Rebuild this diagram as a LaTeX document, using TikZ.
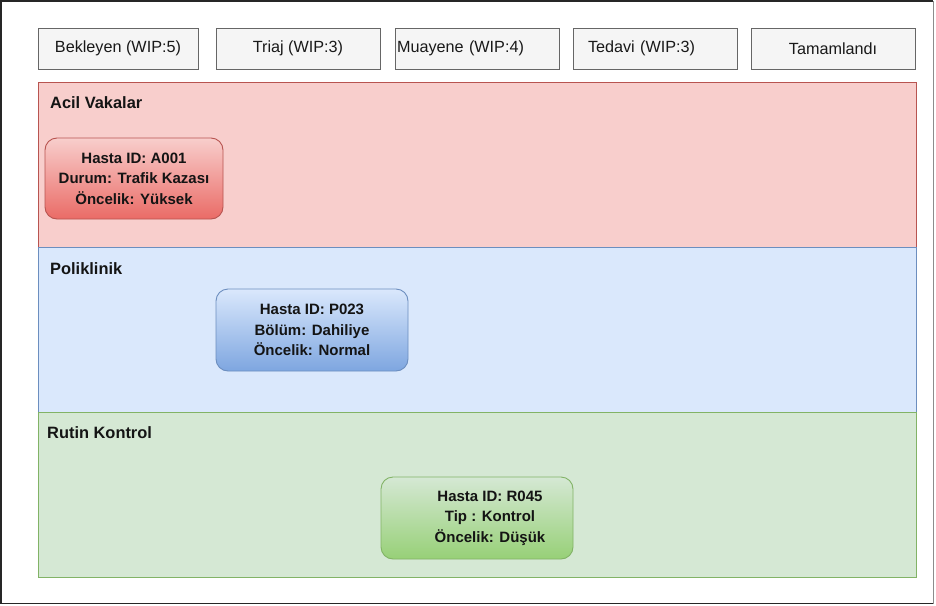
\documentclass[tikz,border=0pt]{standalone}
\usepackage{fontspec}
\setmainfont{Liberation Sans}
\begin{document}
\begin{tikzpicture}[x=1pt,y=-1pt,
  colhead/.style={draw=black!60,fill=black!4,line width=0.8pt,minimum height=41pt,
    inner sep=0pt,font=\fontsize{16.2}{18}\selectfont,text=black!90},
  lefthead/.style={colhead,align=left,text width=164pt-2*#1,inner xsep=#1},
  lane/.style={line width=0.9pt},
  lanetitle/.style={anchor=base west,inner sep=0pt,font=\fontsize{16.4}{18}\selectfont\bfseries,text=black!92},
  card/.style={rounded corners=12pt,line width=0.9pt,inner sep=0pt,
    font=\fontsize{15}{20.5}\selectfont\bfseries,text=black!92,align=center}
]
\definecolor{redfill}{HTML}{F8CECC}\definecolor{redline}{HTML}{B85450}\definecolor{reddark}{HTML}{EA6B66}
\definecolor{bluefill}{HTML}{DAE8FC}\definecolor{blueline}{HTML}{6C8EBF}\definecolor{bluedark}{HTML}{7EA6E0}
\definecolor{greenfill}{HTML}{D5E8D4}\definecolor{greenline}{HTML}{82B366}\definecolor{greendark}{HTML}{97D077}
\useasboundingbox (0,0) rectangle (936,605);
\fill[white] (0,0) rectangle (936,605);
% outer frame
\draw[black!85,line width=1.6pt] (933,1) -- (1,1) -- (1,603.5) -- (933,603.5);
\draw[black!45,line width=1pt] (933,1) -- (933,603.5);

% column headers
\node[colhead,minimum width=160pt] (h1) at (118,48.5) {Bekleyen (WIP:5)};
\node[colhead,minimum width=164pt] (h2) at (298,48.5) {Triaj (WIP:3)};
\node[lefthead=2pt] (h3) at (477,48.5) {Muayene (WIP:4)};
\node[lefthead=15pt] (h4) at (655,48.5) {Tedavi (WIP:3)};
\node[colhead,minimum width=164pt] (h5) at (833,48.5) {Tamamlandı};

% swimlanes
\draw[lane,fill=redfill,draw=redline] (38,82) rectangle (916,247);
\draw[lane,fill=bluefill,draw=blueline] (38,247) rectangle (916,412);
\draw[lane,fill=greenfill,draw=greenline] (38,412) rectangle (916,577);
\node[lanetitle] (t1) at (50,108) {Acil Vakalar};
\node[lanetitle] (t2) at (50,274) {Poliklinik};
\node[lanetitle] (t3) at (47,438) {Rutin Kontrol};

% patient cards
\node[card,draw=redline,top color=redfill,bottom color=reddark,
  minimum width=178pt,minimum height=81pt] (a001) at (134,178.5)
  {Hasta ID: A001\\Durum: Trafik Kazası\\Öncelik: Yüksek};
\node[card,draw=blueline,top color=bluefill,bottom color=bluedark,
  minimum width=192pt,minimum height=82pt] (p023) at (312,330)
  {Hasta ID: P023\\Bölüm: Dahiliye\\Öncelik: Normal};
\node[card,draw=greenline,top color=greenfill,bottom color=greendark,
  minimum width=192pt,minimum height=82pt] (r045) at (477,518) {};
\node[font=\fontsize{15}{20.5}\selectfont\bfseries,text=black!92,align=center,inner sep=0pt]
  (r045t) at (490,518) {Hasta ID: R045\\Tip : Kontrol\\Öncelik: Düşük};
\end{tikzpicture}
\end{document}
